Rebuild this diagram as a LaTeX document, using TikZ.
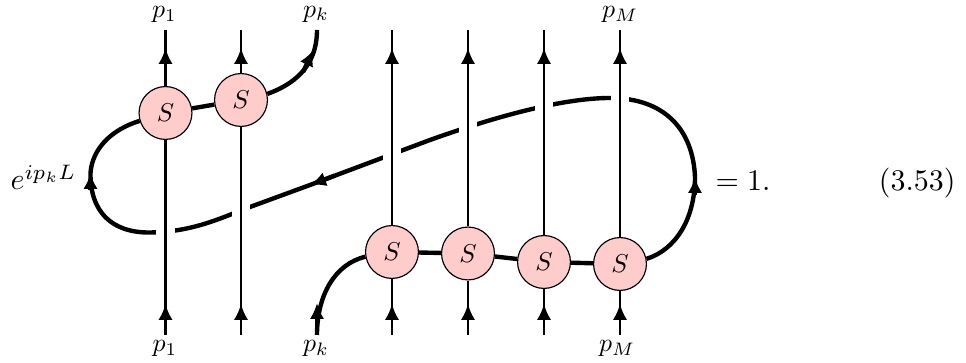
\documentclass[tikz,border=0pt]{standalone}
\usetikzlibrary{arrows.meta,decorations.markings}
\tikzset{
  smat/.style={circle,draw=black,line width=0.45pt,fill={rgb,255:red,255;green,204;blue,204},minimum size=20.5pt,inner sep=0pt},
  looptip/.style={-{Latex[length=6.2pt,width=5.6pt]}},
  loopline/.style={line width=1.7pt},
  strand/.style={line width=1.05pt,preaction={draw=white,line width=7pt}},
  markat/.style={postaction={decorate},decoration={markings,mark=at position #1 with {\arrow{Latex[length=6.2pt,width=5.6pt]}}}},
  lab/.style={inner sep=0pt},
  biglab/.style={inner sep=0pt,transform shape,scale=1.16}
}
\begin{document}
\begin{tikzpicture}[x=0.3876pt,y=-0.3876pt]
\useasboundingbox (0,0) rectangle (966,363);
% S-matrix nodes
\node[smat] (s1) at (165.5,113) {$S$};
\node[smat] (s2) at (241,100) {$S$};
\node[smat] (s3) at (392,252) {$S$};
\node[smat] (s4) at (468,253.5) {$S$};
\node[smat] (s5) at (544,262) {$S$};
\node[smat] (s6) at (620,264) {$S$};
% ends of strands
\foreach \n/\x in {1/165.5,2/241,3/392,4/468,5/544,6/620}{
  \coordinate (t\n) at (\x,30);
  \coordinate (b\n) at (\x,335);
}
\coordinate (tk) at (317,30);
\coordinate (bk) at (317,335);
% waypoints of the loop
\coordinate (ar) at (695,177);
\coordinate (top) at (610,98);
\coordinate (mid) at (310,185);
\coordinate (al) at (90.5,173);
% thick line between S nodes
\draw[loopline] (s1) -- (s2);
\draw[loopline] (s3) -- (s4);
\draw[loopline] (s4) -- (s5);
\draw[loopline] (s5) -- (s6);
% p_k legs
\draw[loopline] (s2.13) .. controls (292,85) and (317,68) .. (tk);
\draw[loopline,looptip] (303,72) -- (313.5,50);
\draw[loopline] (bk) .. controls (317,295) and (335,264) .. (s3.190);
\draw[loopline,looptip] (317,325) -- (317,303);
% the long loop
\draw[loopline] (s6.11) .. controls (675,250) and (695,220) .. (ar)
   .. controls (693,130) and (665,98) .. (top)
   .. controls (565,98) and (500,115) .. (430,140) -- (mid)
   -- (250,207) .. controls (225,216) and (195,232) .. (150,232.5)
   .. controls (112,233) and (90,212) .. (al)
   .. controls (92,150) and (110,130) .. (s1.197);
\draw[loopline,looptip] (695,195) -- (ar);
\draw[loopline,looptip] (335,175.6) -- (mid);
\draw[loopline,looptip] (90.5,190) -- (al);
% vertical strands
\foreach \n in {1,...,6}{
  \draw[strand,markat=31*0.3876pt] (b\n) -- (s\n.south);
  \draw[strand,markat=-18*0.3876pt] (s\n.north) -- (t\n);
}
% labels
\node[lab] (lt1) at (164.5,14.5) {$p_1$};
\node[lab] (ltk) at (316,14) {$p_k$};
\node[lab] (ltm) at (620,14.5) {$p_M$};
\node[lab] (lb1) at (165,348.5) {$p_1$};
\node[lab] (lbk) at (316,348.5) {$p_k$};
\node[lab] (lbm) at (617,348.5) {$p_M$};
\node[biglab,anchor=base west] (ex) at (10,190) {$e^{ip_kL}$};
\node[biglab,anchor=base west] (eq) at (715,190.5) {${=}\;1.$};
\node[biglab,anchor=base east] (no) at (956,190.5) {(3.53)};
\end{tikzpicture}
\end{document}
